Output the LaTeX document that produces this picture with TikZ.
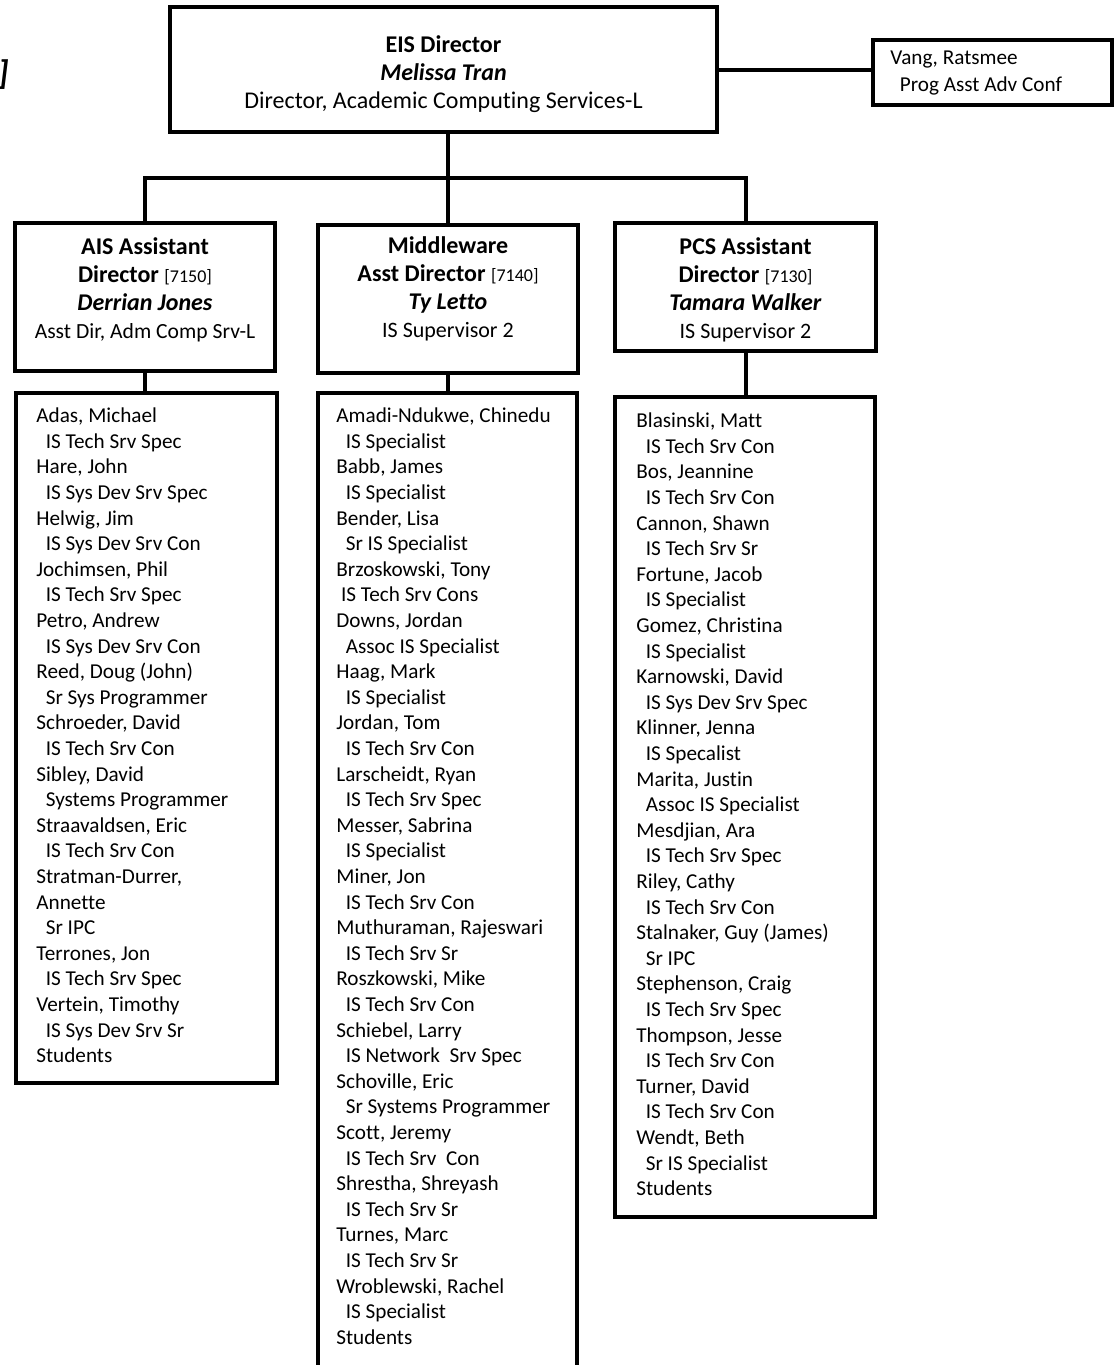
\documentclass[tikz,border=0pt]{standalone}
\usepackage{fontspec}
\setmainfont{Carlito}[Ligatures=NoCommon]
\usetikzlibrary{positioning}

\tikzset{
  box/.style={draw, line width=2pt, inner sep=0pt},
  hdr/.style={align=center, inner sep=0pt, font=\fontsize{12}{14}\selectfont},
  names/.style={align=left, inner sep=0pt, font=\fontsize{10.6}{12.8}\selectfont},
  link/.style={line width=2pt}
}
\newcommand{\ind}{\hspace*{4.7pt}}
\newcommand{\unitno}[1]{{\fontsize{9}{10}\selectfont #1}}
\newcommand{\jobline}[1]{{\fontsize{11}{14}\selectfont #1}}

\begin{document}
\begin{tikzpicture}[x=0.5pt,y=-0.5pt]
  \useasboundingbox (0,0) rectangle (1114,1365);

  % cut-off title mark
  \node[anchor=east, inner sep=0pt, font=\fontsize{17}{17}\selectfont\bfseries\itshape] (cut) at (9,75) {]};

  % director
  \node[box, minimum width=273.5pt, minimum height=62.5pt] (eis) at (443.5,69.5) {};
  \node[hdr, below=15pt of eis.north] (eistext) {\textbf{EIS Director}\\ \textbf{\textit{Melissa Tran}}\\ Director, Academic Computing Services-L};

  \node[box, minimum width=119.5pt, minimum height=32.5pt] (vang) at (992.5,72.5) {};
  \node[names, font=\fontsize{10.6}{13.5}\selectfont, below right=6pt and 9.5pt of vang.north west] (vangtext) {Vang, Ratsmee\\ \ind Prog Asst Adv Conf};

  % assistant directors
  \node[box, minimum width=130pt, minimum height=74pt] (ais) at (145,297) {};
  \node[hdr, below=8pt of ais.north] (aistext) {\textbf{AIS Assistant}\\ \textbf{Director} \unitno{[7150]}\\ \textbf{\textit{Derrian Jones}}\\ {\fontsize{10.8}{14}\selectfont Asst Dir, Adm Comp Srv-L}};

  \node[box, minimum width=130pt, minimum height=74pt] (mw) at (448,299) {};
  \node[hdr, below=6.5pt of mw.north] (mwtext) {\textbf{Middleware}\\ \textbf{Asst Director} \unitno{[7140]}\\ \textbf{\textit{Ty Letto}}\\ \jobline{IS Supervisor 2}};

  \node[box, minimum width=130.5pt, minimum height=64pt] (pcs) at (745.5,287) {};
  \node[hdr, below=8pt of pcs.north] (pcstext) {\textbf{PCS Assistant}\\ \textbf{Director} \unitno{[7130]}\\ \textbf{\textit{Tamara Walker}}\\ \jobline{IS Supervisor 2}};

  % staff lists
  \node[box, minimum width=130.5pt, minimum height=345pt] (aislist) at (146.5,738) {};
  \node[names, below right=8.3pt and 11pt of aislist.north west] (aisnames) {Adas, Michael\\
    \ind IS Tech Srv Spec\\
    Hare, John\\
    \ind IS Sys Dev Srv Spec\\
    Helwig, Jim\\
    \ind IS Sys Dev Srv Con\\
    Jochimsen, Phil\\
    \ind IS Tech Srv Spec\\
    Petro, Andrew\\
    \ind IS Sys Dev Srv Con\\
    Reed, Doug (John)\\
    \ind Sr Sys Programmer\\
    Schroeder, David\\
    \ind IS Tech Srv Con\\
    Sibley, David\\
    \ind Systems Programmer\\
    Straavaldsen, Eric\\
    \ind IS Tech Srv Con\\
    Stratman-Durrer,\\
    Annette\\
    \ind Sr IPC\\
    Terrones, Jon\\
    \ind IS Tech Srv Spec\\
    Vertein, Timothy\\
    \ind IS Sys Dev Srv Sr\\
    Students};

  \node[box, minimum width=129.5pt, minimum height=503.5pt] (mwlist) at (447.5,896.5) {};
  \node[names, below right=8.3pt and 10pt of mwlist.north west] (mwnames) {Amadi-Ndukwe, Chinedu\\
    \ind IS Specialist\\
    Babb, James\\
    \ind IS Specialist\\
    Bender, Lisa\\
    \ind Sr IS Specialist\\
    Brzoskowski, Tony\\
    \hspace*{2.3pt}IS Tech Srv Cons\\
    Downs, Jordan\\
    \ind Assoc IS Specialist\\
    Haag, Mark\\
    \ind IS Specialist\\
    Jordan, Tom\\
    \ind IS Tech Srv Con\\
    Larscheidt, Ryan\\
    \ind IS Tech Srv Spec\\
    Messer, Sabrina\\
    \ind IS Specialist\\
    Miner, Jon\\
    \ind IS Tech Srv Con\\
    Muthuraman, Rajeswari\\
    \ind IS Tech Srv Sr\\
    Roszkowski, Mike\\
    \ind IS Tech Srv Con\\
    Schiebel, Larry\\
    \ind IS Network~ Srv Spec\\
    Schoville, Eric\\
    \ind Sr Systems Programmer\\
    Scott, Jeremy\\
    \ind IS Tech Srv~ Con\\
    Shrestha, Shreyash\\
    \ind IS Tech Srv Sr\\
    Turnes, Marc\\
    \ind IS Tech Srv Sr\\
    Wroblewski, Rachel\\
    \ind IS Specialist\\
    Students};

  \node[box, minimum width=130pt, minimum height=410pt] (pcslist) at (745,807) {};
  \node[names, below right=8.8pt and 11.5pt of pcslist.north west] (pcsnames) {Blasinski, Matt\\
    \ind IS Tech Srv Con\\
    Bos, Jeannine\\
    \ind IS Tech Srv Con\\
    Cannon, Shawn\\
    \ind IS Tech Srv Sr\\
    Fortune, Jacob\\
    \ind IS Specialist\\
    Gomez, Christina\\
    \ind IS Specialist\\
    Karnowski, David\\
    \ind IS Sys Dev Srv Spec\\
    Klinner, Jenna\\
    \ind IS Specalist\\
    Marita, Justin\\
    \ind Assoc IS Specialist\\
    Mesdjian, Ara\\
    \ind IS Tech Srv Spec\\
    Riley, Cathy\\
    \ind IS Tech Srv Con\\
    Stalnaker, Guy (James)\\
    \ind Sr IPC\\
    Stephenson, Craig\\
    \ind IS Tech Srv Spec\\
    Thompson, Jesse\\
    \ind IS Tech Srv Con\\
    Turner, David\\
    \ind IS Tech Srv Con\\
    Wendt, Beth\\
    \ind Sr IS Specialist\\
    Students};

  % connectors
  \coordinate (bus) at (448,178);
  \draw[link] (eis.east) -- (eis.east -| vang.west);
  \draw[link] (eis.south -| mw.north) -- (mw.north);
  \draw[link] (ais.north) |- (bus) -| (pcs.north);
  \draw[link] (ais.south) -- (ais.south |- aislist.north);
  \draw[link] (mw.south) -- (mw.south |- mwlist.north);
  \draw[link] (pcs.south) -- (pcs.south |- pcslist.north);
\end{tikzpicture}
\end{document}
